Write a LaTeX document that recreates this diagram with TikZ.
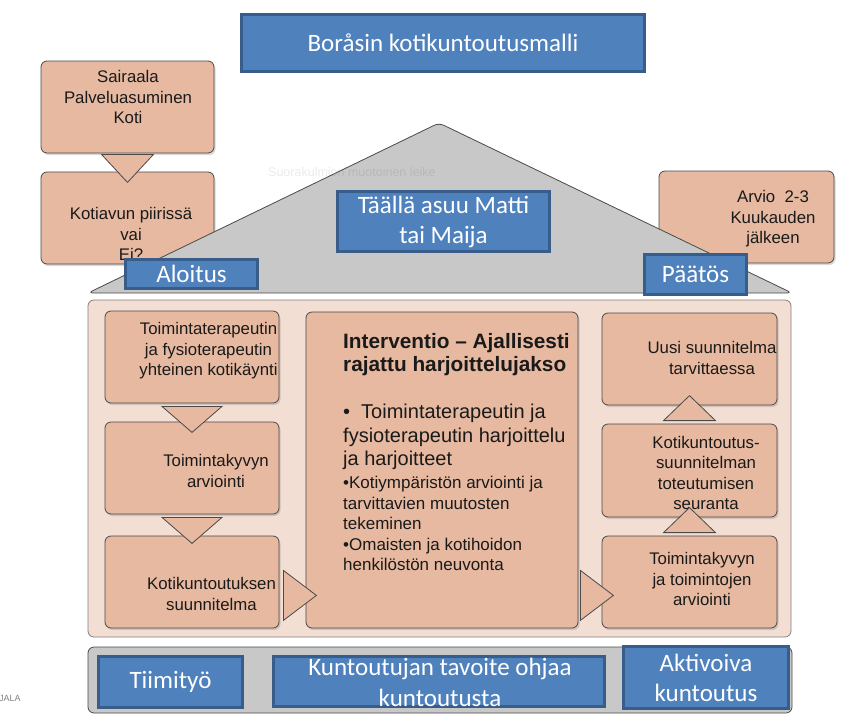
\documentclass[tikz,border=0pt]{standalone}
\usepackage{fontspec}
\setmainfont{Liberation Sans}
\newfontfamily\calfont{Carlito}
\usepackage{xcolor}
\usepackage{tikz}
\usetikzlibrary{calc,shadows}
\definecolor{boxblue}{HTML}{4F81BD}
\definecolor{blueline}{HTML}{385D8A}
\definecolor{salmon}{HTML}{E6B9A0}
\definecolor{peach}{HTML}{F3DED3}
\definecolor{roofgray}{HTML}{C8C8C8}
\definecolor{edgegray}{HTML}{4A4A4A}
\definecolor{inktext}{HTML}{1A1A1A}
\tikzset{
  bluebox/.style={draw=blueline, line width=3pt, fill=boxblue, inner sep=0pt, text=white, align=center, font=\calfont\fontsize{25}{30}\selectfont},
  bluetext/.style={text=white, align=center, inner sep=0pt, font=\calfont\fontsize{25}{31}\selectfont},
  stepcard/.style={draw=edgegray, line width=0.8pt, fill=salmon, rounded corners=6pt, inner sep=0pt, drop shadow={shadow xshift=1.5pt, shadow yshift=-2pt, opacity=0.3}},
  cardtext/.style={text=inktext, align=center, inner sep=0pt, font=\fontsize{16.8}{20.5}\selectfont},
  midtext/.style={text=inktext, align=left, inner sep=0pt, anchor=north west},
  blockarrow/.style={draw=edgegray, line width=0.8pt, fill=salmon, line join=miter},
  rooftop/.style={draw=edgegray, line width=0.8pt, fill=roofgray, rounded corners=5pt},
  bandbox/.style={draw=edgegray, line width=0.8pt, rounded corners=6pt, inner sep=0pt},
}

\begin{document}
\begin{tikzpicture}[x=1pt, y=-1pt]
  \useasboundingbox (0,0) rectangle (863,724);

  % Title
  \node[bluebox, minimum width=403pt, minimum height=57pt] (title) at (443,43) {Boråsin kotikuntoutusmalli};

  % Starting point, top left
  \node[stepcard, minimum width=173pt, minimum height=92pt] (origin) at (127.5,107) {};
  \node[cardtext] (origintext) at (128,97) {Sairaala\\Palveluasuminen\\Koti};
  \node[stepcard, minimum width=173pt, minimum height=92pt] (homecare) at (127.5,218) {};
  \node[cardtext] (homecaretext) at (131,234) {Kotiavun piirissä\\vai\\Ei?};
  \draw[blockarrow] ($(origin.south)+(-26,1)$) -- ($(origin.south)+(26,1)$) -- ($(origin.south)+(0,29)$) -- cycle;

  % Follow-up note, top right
  \node[stepcard, minimum width=175pt, minimum height=92pt] (followup) at (746.5,217) {};
  \node[cardtext] (followuptext) at (773,219) {Arvio\ \ 2-3\\Kuukauden\\jälkeen};

  % Roof
  \draw[rooftop] (88,293) -- (439,123) -- (792,293) -- cycle;
  \node[anchor=west, inner sep=0pt, opacity=0.08, font=\fontsize{12.5}{14}\selectfont] (hint) at (268,172) {Suorakulmion muotoinen leike};
  \node[bluebox, minimum width=212pt, minimum height=60pt] (resident) at (443.5,221.5) {Täällä asuu Matti\\tai Maija};
  \node[bluebox, minimum width=132pt, minimum height=29pt] (start) at (191.5,274) {Aloitus};
  \node[bluebox, minimum width=102pt, minimum height=40pt] (decision) at (695.5,274.5) {Päätös};

  % House body
  \node[bandbox, draw=gray, fill=peach, minimum width=703pt, minimum height=337pt] (body) at (439.5,468.5) {};

  % Left column
  \node[stepcard, minimum width=174pt, minimum height=92pt] (visit) at (192,357) {};
  \node[cardtext] (visittext) at (208.5,351) {Toimintaterapeutin\\ja fysioterapeutin\\yhteinen kotikäynti};
  \node[stepcard, minimum width=174pt, minimum height=92pt] (assess) at (192,468) {};
  \node[cardtext] (assesstext) at (216,471) {Toimintakyvyn\\arviointi};
  \node[stepcard, minimum width=174pt, minimum height=92pt] (plan) at (192,582) {};
  \node[cardtext] (plantext) at (211.5,594) {Kotikuntoutuksen\\suunnitelma};

  % Middle: intervention
  \node[stepcard, minimum width=272pt, minimum height=316pt] (interv) at (442,470) {};
  \node[midtext, font=\bfseries\fontsize{20.8}{23}\selectfont] (intervtitle) at (343,333) {Interventio – Ajallisesti\\rajattu harjoittelujakso};
  \node[midtext, font=\fontsize{20}{23.5}\selectfont] (intervmain) at (343,404) {•\hspace{0.55em}Toimintaterapeutin ja\\fysioterapeutin harjoittelu\\ja harjoitteet};
  \node[midtext, font=\fontsize{17}{20.5}\selectfont] (intervsub) at (343,476) {•Kotiympäristön arviointi ja\\tarvittavien muutosten\\tekeminen\\•Omaisten ja kotihoidon\\henkilöstön neuvonta};

  % Right column
  \node[stepcard, minimum width=175pt, minimum height=92pt] (newplan) at (689.5,359) {};
  \node[cardtext] (newplantext) at (712,358) {Uusi suunnitelma\\tarvittaessa};
  \node[stepcard, minimum width=175pt, minimum height=93pt] (monitor) at (689.5,470.5) {};
  \node[cardtext] (monitortext) at (706,473) {Kotikuntoutus-\\suunnitelman\\toteutumisen\\seuranta};
  \node[stepcard, minimum width=175pt, minimum height=92pt] (reassess) at (689.5,582) {};
  \node[cardtext] (reassesstext) at (702,579) {Toimintakyvyn\\ja toimintojen\\arviointi};

  % Block arrows between the steps
  \foreach \from in {visit, assess}
    \draw[blockarrow] ($(\from.south)+(-30,3)$) -- ($(\from.south)+(30,3)$) -- ($(\from.south)+(0,29)$) -- cycle;
  \foreach \from in {reassess, monitor}
    \draw[blockarrow] ($(\from.north)+(-26,-3)$) -- ($(\from.north)+(26,-3)$) -- ($(\from.north)+(0,-28)$) -- cycle;
  \draw[blockarrow] ($(plan.south east)+(4,-58)$) -- ($(plan.south east)+(4,-8)$) -- ($(plan.south east)+(37,-33)$) -- cycle;
  \draw[blockarrow] ($(interv.south east)+(2,-58)$) -- ($(interv.south east)+(2,-8)$) -- ($(interv.south east)+(35,-33)$) -- cycle;

  % Foundation band
  \node[bandbox, fill=roofgray, minimum width=704pt, minimum height=66pt] (base) at (440,680) {};
  \node[bluebox, minimum width=144pt, minimum height=51pt] (team) at (170.5,682) {Tiimityö};
  \node[bluebox, minimum width=331pt, minimum height=50pt] (goal) at (439,681.5) {};
  \node[bluetext] (goaltext) at (440,682) {Kuntoutujan tavoite ohjaa\\kuntoutusta};
  \node[bluebox, minimum width=165pt, minimum height=62pt] (active) at (706,677.5) {Aktivoiva\\kuntoutus};
  \node[anchor=west, inner sep=0pt, text=gray, font=\fontsize{9}{10}\selectfont] (edgenote) at (-1,698) {JALA};
\end{tikzpicture}
\end{document}
